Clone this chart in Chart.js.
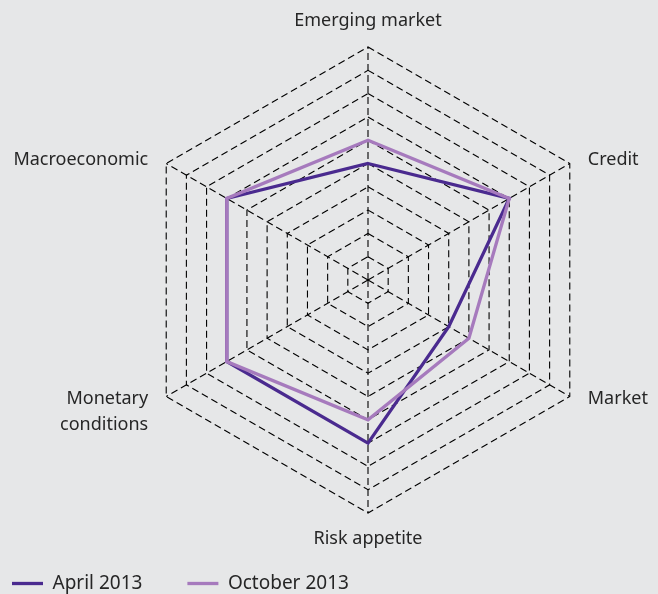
<!DOCTYPE html>
<html>
<head>
<meta charset="utf-8">
<script src="https://cdn.jsdelivr.net/npm/chart.js@4/dist/chart.umd.min.js"></script>
<style>
  html, body { margin: 0; padding: 0; background: #e6e7e8; }
  canvas { display: block; }
</style>
</head>
<body>
<canvas id="radar" width="658" height="594"></canvas>
<script>
// Axes, clockwise from the top
const categories = ['Emerging market', 'Credit', 'Market', 'Risk appetite', ['Monetary', 'conditions'], 'Macroeconomic'];
const april2013 = [5, 7, 4, 7, 7, 7];
const october2013 = [6, 7, 5, 6, 7, 7];
const scaleMin = 0;
const scaleMax = 10;

const textColour = '#262626';

// Labels sit beside the outer hexagon corners (drawn here, not by Chart.js)
const axisLabels = {
  id: 'axisLabels',
  afterDraw(chart) {
    const r = chart.scales.r;
    const ctx = chart.ctx;
    ctx.save();
    ctx.font = '18px "Noto Sans"';
    ctx.fillStyle = textColour;
    ctx.textBaseline = 'middle';
    categories.forEach(function(label, i) {
      const lines = [].concat(label);
      const p = r.getPointPosition(i, r.drawingArea);
      const dx = p.x - r.xCenter;
      let x = p.x, y;
      if (Math.abs(dx) < 1) {
        ctx.textAlign = 'center';
        y = p.y < r.yCenter ? p.y - 26 : p.y + 26;
      } else {
        ctx.textAlign = dx > 0 ? 'left' : 'right';
        x = dx > 0 ? p.x + 18 : p.x - 18;
        y = p.y < r.yCenter ? p.y - 4 : p.y + 2;
      }
      lines.forEach(function(line, k) {
        ctx.fillText(line, x, y + k * 26);
      });
    });
    ctx.restore();
  }
};

const ctx = document.getElementById('radar').getContext('2d');

new Chart(ctx, {
  type: 'radar',
  data: {
    labels: categories,
    datasets: [{
      label: 'April 2013',
      data: april2013,
      borderColor: '#4a2a8f',
      backgroundColor: '#4a2a8f',
      borderWidth: 3.3,
      pointRadius: 0,
      fill: false,
      order: 1
    }, {
      label: 'October 2013',
      data: october2013,
      borderColor: '#a67abd',
      backgroundColor: '#a67abd',
      borderWidth: 3.3,
      pointRadius: 0,
      fill: false,
      order: 0
    }]
  },
  options: {
    responsive: false,
    animation: false,
    layout: {
      padding: { left: -33, right: 0, top: 0, bottom: -9 }
    },
    scales: {
      r: {
        min: scaleMin,
        max: scaleMax,
        ticks: { display: false, stepSize: 1 },
        pointLabels: { display: false },
        grid: { color: '#000', lineWidth: 1.1 },
        border: { dash: [7, 4] },
        angleLines: { color: '#000', lineWidth: 1.1, borderDash: [7, 4] },
        afterFit: function(scale) {
          // pin the hexagon to the spot it has in the original
          scale.xCenter = 368;
          scale.yCenter = 280;
          scale.drawingArea = 233;
        }
      }
    },
    plugins: {
      legend: {
        position: 'bottom',
        align: 'start',
        labels: {
          usePointStyle: true,
          pointStyle: 'line',
          pointStyleWidth: 31,
          padding: 45,
          color: textColour,
          font: { family: '"Noto Sans"', size: 19 },
          sort: function(a, b) { return a.datasetIndex - b.datasetIndex; }
        }
      },
      tooltip: { enabled: false }
    }
  },
  plugins: [axisLabels]
});
</script>
</body>
</html>
